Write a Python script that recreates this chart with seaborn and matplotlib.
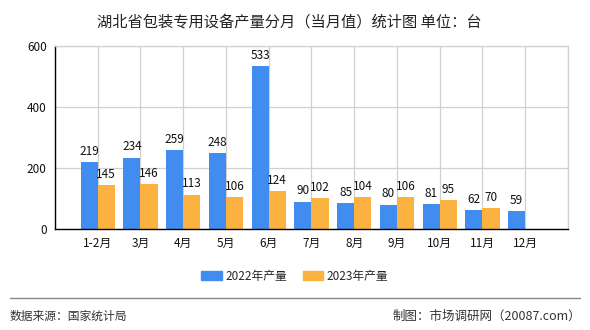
import matplotlib
matplotlib.use("Agg")
import matplotlib.pyplot as plt
import seaborn as sns
import pandas as pd
import numpy as np
from matplotlib.lines import Line2D

months = ["1-2月", "3月", "4月", "5月", "6月", "7月", "8月", "9月", "10月", "11月", "12月"]
series_names = ["2022年产量", "2023年产量"]
values_2022 = [219, 234, 259, 248, 533, 90, 85, 80, 81, 62, 59]
values_2023 = [145, 146, 113, 106, 124, 102, 104, 106, 95, 70, np.nan]
colors = ["#418DEF", "#FBB241"]

title = "湖北省包装专用设备产量分月（当月值）统计图 单位：台"
source_text = "数据来源：国家统计局"
maker_text = "制图：市场调研网（20087.com）"

df = pd.DataFrame({
    "month": months * 2,
    "series": [series_names[0]] * len(months) + [series_names[1]] * len(months),
    "value": values_2022 + values_2023,
})

sns.set_style("white")
plt.rcParams['font.family'] = ['Noto Sans CJK SC', 'DejaVu Sans']

fig = plt.figure(figsize=(5.9, 3.3), dpi=100)
ax = fig.add_axes([0.0932, 0.306, 0.8695, 0.5546])

sns.barplot(data=df, x="month", y="value", hue="series", order=months,
            hue_order=series_names, palette=colors, width=0.8,
            saturation=1, ax=ax, legend=False, linewidth=0, errorbar=None)

for cont in ax.containers:
    labels = []
    for b in cont:
        h = b.get_height()
        labels.append("" if np.isnan(h) else f"{int(round(h))}")
    ax.bar_label(cont, labels=labels, padding=3, fontsize=8.5, color="#111111")

ax.set_xlim(-1, len(months))
ax.set_ylim(0, 600)
ax.set_yticks([0, 200, 400, 600])
ax.set_xticks(range(-1, len(months) + 1))
ax.set_xticklabels([""] + months + [""])
ax.set_xlabel("")
ax.set_ylabel("")
ax.grid(True, axis="both", color="#d0d0d0", linewidth=0.9)
ax.set_axisbelow(True)
for s in ["top", "right"]:
    ax.spines[s].set_color("#d0d0d0")
    ax.spines[s].set_linewidth(0.9)
for s in ["left", "bottom"]:
    ax.spines[s].set_color("#000000")
    ax.spines[s].set_linewidth(1.0)
ax.tick_params(axis="both", which="both", direction="out", length=4, width=1,
               color="#000000", labelsize=8.5, labelcolor="#111111", pad=2)

fig.text(0.49, 0.935, title, ha="center", va="center", fontsize=11, color="#222222")

handles = [plt.Rectangle((0, 0), 1, 1, color=c) for c in colors]
fig.legend(handles, series_names, loc="center", bbox_to_anchor=(0.5, 0.163), ncol=2,
           frameon=False, fontsize=8.5, handlelength=1.7, handleheight=0.8,
           columnspacing=1.4, handletextpad=0.3)

fig.add_artist(Line2D([0.017, 0.983], [0.097, 0.097], color="#888888", linewidth=1,
                      transform=fig.transFigure))
fig.text(0.017, 0.042, source_text, ha="left", va="center", fontsize=8.5, color="#333333")
fig.text(0.985, 0.042, maker_text, ha="right", va="center", fontsize=9, color="#333333")

fig.savefig("out.png", dpi=100)
